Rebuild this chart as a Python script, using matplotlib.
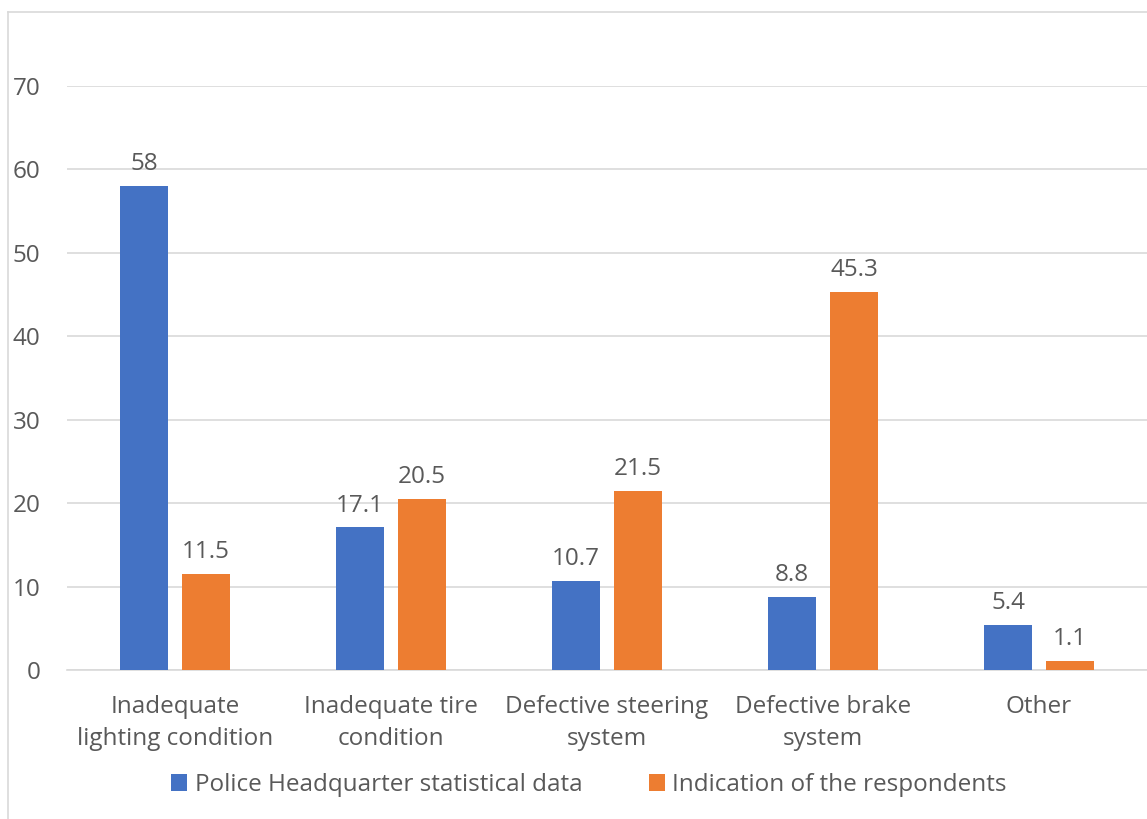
import numpy as np
import matplotlib.pyplot as plt
from matplotlib.lines import Line2D

categories = ["Inadequate\nlighting condition", "Inadequate tire\ncondition",
              "Defective steering\nsystem", "Defective brake\nsystem", "Other"]
police_data = [58, 17.1, 10.7, 8.8, 5.4]
respondents = [11.5, 20.5, 21.5, 45.3, 1.1]
series_names = ["Police Headquarter statistical data", "Indication of the respondents"]
y_ticks = [0, 10, 20, 30, 40, 50, 60, 70]

blue = "#4472C4"
orange = "#ED7D31"
text_color = "#595959"
fs = 17.5

plt.rcParams['font.family'] = ['Open Sans', 'DejaVu Sans']

fig = plt.figure(figsize=(11.47, 8.19), dpi=100)
ax = fig.add_axes([0.0584, 0.1819, 0.9416, 0.7131])

x = np.arange(len(categories))
width = 0.222
offset = 0.1435

bars1 = ax.bar(x - offset, police_data, width, color=blue, label=series_names[0], zorder=3)
bars2 = ax.bar(x + offset, respondents, width, color=orange, label=series_names[1], zorder=3)

for bars, vals in ((bars1, police_data), (bars2, respondents)):
    for b, v in zip(bars, vals):
        ax.annotate(f"{v:g}", (b.get_x() + b.get_width() / 2, v),
                    xytext=(0, 7), textcoords="offset points",
                    ha="center", va="bottom", fontsize=fs, color=text_color)

ax.set_xlim(-0.5, len(categories) - 0.5)
ax.set_ylim(0, 70)
ax.set_yticks(y_ticks)
ax.set_xticks(x)
ax.set_xticklabels(categories, fontsize=fs, color=text_color, linespacing=1.45)
ax.tick_params(axis='y', labelsize=fs, labelcolor=text_color, length=0, pad=19)
ax.tick_params(axis='x', length=0, pad=18)
ax.grid(axis='y', color="#d9d9d9", linewidth=1.2, zorder=0)
ax.set_axisbelow(True)
for s in ax.spines.values():
    s.set_visible(False)
ax.spines['bottom'].set_visible(True)
ax.spines['bottom'].set_color("#d9d9d9")
ax.spines['bottom'].set_linewidth(1.2)

fig.legend(handles=[bars1, bars2], labels=series_names, loc="center",
           bbox_to_anchor=(0.5135, 0.0415), ncol=2, frameon=False,
           fontsize=fs, labelcolor=text_color, handlelength=0.66, handleheight=0.66,
           handletextpad=0.3, columnspacing=2.75)

# chart area border
fig.add_artist(Line2D([8 / 1147, 8 / 1147], [0, 1 - 12 / 819], color="#d9d9d9", linewidth=1.2))
fig.add_artist(Line2D([8 / 1147, 1], [1 - 12 / 819, 1 - 12 / 819], color="#d9d9d9", linewidth=1.2))

fig.savefig("out.png", dpi=100)
